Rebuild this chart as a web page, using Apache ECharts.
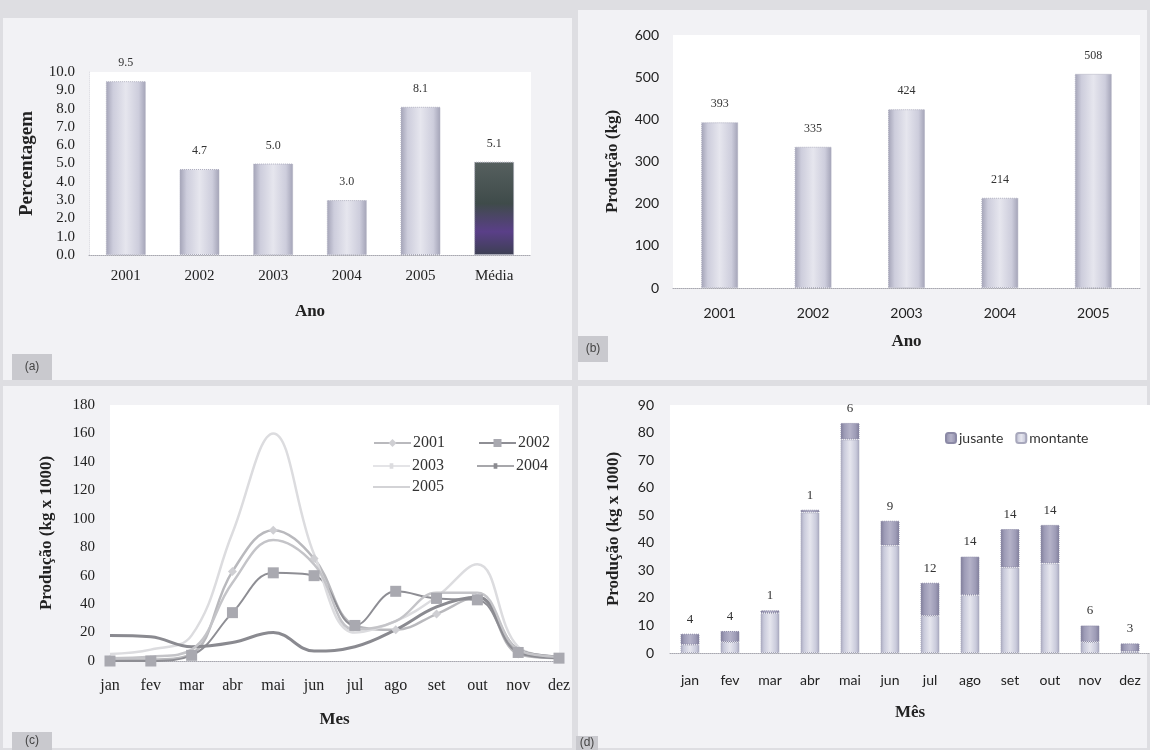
<!DOCTYPE html>
<html>
<head>
<meta charset="utf-8">
<script src="https://cdn.jsdelivr.net/npm/echarts@6/dist/echarts.min.js"></script>
<style>
  html, body { margin: 0; padding: 0; background: #dedee2; }
  #chart { width: 1150px; height: 750px; }
</style>
</head>
<body>
<div id="chart"></div>
<script>
// (a) percentagem por ano
const anosA = ['2001', '2002', '2003', '2004', '2005', 'Média'];
const percentagem = [9.5, 4.7, 5.0, 3.0, 8.1, 5.1];

// (b) produção anual (kg)
const anosB = ['2001', '2002', '2003', '2004', '2005'];
const producaoAnual = [393, 335, 424, 214, 508];

// (c) produção mensal por ano (kg x 1000)
const meses = ['jan', 'fev', 'mar', 'abr', 'mai', 'jun', 'jul', 'ago', 'set', 'out', 'nov', 'dez'];
const prod2001 = [1, 1, 5, 63, 92, 72, 25, 22, 33, 45, 5, 2];
const prod2002 = [0, 0, 4, 34, 62, 60, 25, 49, 44, 43, 6, 2];
const prod2003 = [5, 8, 18, 90, 160, 75, 20, 28, 45, 68, 10, 3];
const prod2004 = [18, 17, 10, 13, 20, 7, 10, 22, 38, 45, 8, 3];
const prod2005 = [2, 3, 8, 55, 85, 68, 22, 28, 48, 48, 8, 3];

// (d) produção mensal por local (kg x 1000)
const montante = [3, 4, 14.5, 51, 77.5, 39, 13.5, 21, 31, 32.5, 4, 0.5];
const jusante = [4, 4, 1, 1, 6, 9, 12, 14, 14, 14, 6, 3];

const SERIF = '"Liberation Serif", "DejaVu Serif", serif';
const SANS = 'Lato, "Open Sans", "Liberation Sans", sans-serif';

function cylinder(edge, mid) {
  return {
    type: 'linear', x: 0, y: 0, x2: 1, y2: 0,
    colorStops: [
      { offset: 0, color: edge },
      { offset: 0.18, color: mid },
      { offset: 0.5, color: '#e6e6ee' },
      { offset: 0.82, color: mid },
      { offset: 1, color: edge }
    ]
  };
}
const barFill = cylinder('#a2a2b6', '#cdcddc');
const mediaFill = {
  type: 'linear', x: 0, y: 0, x2: 0, y2: 1,
  colorStops: [
    { offset: 0, color: '#56605f' },
    { offset: 0.45, color: '#3f4b4a' },
    { offset: 0.75, color: '#5a3f88' },
    { offset: 1, color: '#3c3f52' }
  ]
};
const montanteFill = cylinder('#a6a6bc', '#c9cadb');
const jusanteFill = {
  type: 'linear', x: 0, y: 0, x2: 1, y2: 0,
  colorStops: [
    { offset: 0, color: '#7e7c98' },
    { offset: 0.2, color: '#9d9bb6' },
    { offset: 0.5, color: '#b4b2c8' },
    { offset: 0.8, color: '#9d9bb6' },
    { offset: 1, color: '#7e7c98' }
  ]
};

// legend glyphs for the line series: a plain stroke, optionally with a small mark
const ICON_PLAIN = 'path://M0,4.2L40,4.2L40,5.8L0,5.8Z';
const ICON_TICK = 'path://M0,4.2L40,4.2L40,5.8L0,5.8Z M18,2L22,2L22,8L18,8Z';

const dottedAxis = { show: true, lineStyle: { color: '#a8a8b0', type: 'dotted', width: 1 } };
const titleStyle = (size) => ({ fontFamily: SERIF, fontWeight: 'bold', fontSize: size, color: '#222' });
const legendText = { fontFamily: SERIF, fontSize: 16, color: '#333', padding: [0, 0, 0, -3] };

function panelBox(x, y, w, h) {
  return { type: 'rect', shape: { x: x, y: y, width: w, height: h }, style: { fill: '#f2f2f5' }, silent: true, z: -10 };
}
function tag(x, y, w, h, t) {
  return {
    type: 'group', children: [
      { type: 'rect', shape: { x: x, y: y, width: w, height: h }, style: { fill: '#c9c9ce' } },
      { type: 'text', x: x + w / 2, y: y + h / 2, style: { text: t, fill: '#444', font: '12px "Liberation Sans", sans-serif', textAlign: 'center', textVerticalAlign: 'middle' } }
    ]
  };
}

const chart = echarts.init(document.getElementById('chart'));
chart.setOption({
  backgroundColor: '#dedee2',
  animation: false,
  graphic: [
    panelBox(3, 18, 569, 362),
    panelBox(578, 10, 569, 370),
    panelBox(3, 386, 569, 362),
    panelBox(578, 386, 569, 362),
    tag(12, 354, 40, 26, '(a)'),
    tag(578, 336, 30, 26, '(b)'),
    tag(12, 732, 40, 18, '(c)'),
    tag(576, 736, 22, 14, '(d)')
  ],
  legend: [
    {
      left: 368, top: 430, itemWidth: 37, itemHeight: 10, itemGap: 33,
      data: ['2001', '2002'], textStyle: legendText
    },
    {
      left: 368, top: 453, itemWidth: 37, itemHeight: 10, itemGap: 33,
      data: [{ name: '2003', icon: ICON_TICK }, { name: '2004', icon: ICON_TICK }], textStyle: legendText
    },
    {
      left: 368, top: 474, itemWidth: 37, itemHeight: 10, itemGap: 33,
      data: [{ name: '2005', icon: ICON_PLAIN }], textStyle: legendText
    },
    {
      left: 940, top: 426, itemWidth: 10, itemHeight: 10, itemGap: 12,
      data: ['jusante', 'montante'],
      textStyle: { fontFamily: SANS, fontSize: 14, color: '#333', padding: [0, 0, 0, -2] }
    }
  ],
  grid: [
    { left: 89, right: 619, top: 72, bottom: 495, show: true, backgroundColor: '#ffffff', borderWidth: 0 },
    { left: 673, right: 10, top: 35, bottom: 462, show: true, backgroundColor: '#ffffff', borderWidth: 0 },
    { left: 110, right: 591, top: 405, bottom: 89, show: true, backgroundColor: '#ffffff', borderWidth: 0 },
    { left: 670, right: 0, top: 405, bottom: 97, show: true, backgroundColor: '#ffffff', borderWidth: 0 }
  ],
  xAxis: [
    {
      gridIndex: 0, type: 'category', data: anosA,
      axisLine: dottedAxis, axisTick: { show: false },
      axisLabel: { fontFamily: SERIF, fontSize: 15, color: '#222', margin: 14 },
      name: 'Ano', nameLocation: 'middle', nameGap: 48, nameTextStyle: titleStyle(17)
    },
    {
      gridIndex: 1, type: 'category', data: anosB,
      axisLine: dottedAxis, axisTick: { show: false },
      axisLabel: { fontFamily: SANS, fontSize: 14, color: '#222', margin: 18 },
      name: 'Ano', nameLocation: 'middle', nameGap: 45, nameTextStyle: titleStyle(17)
    },
    {
      gridIndex: 2, type: 'category', data: meses, boundaryGap: false,
      axisLine: dottedAxis, axisTick: { show: false },
      axisLabel: { fontFamily: SERIF, fontSize: 16, color: '#222', margin: 17 },
      name: 'Mes', nameLocation: 'middle', nameGap: 50, nameTextStyle: titleStyle(17)
    },
    {
      gridIndex: 3, type: 'category', data: meses,
      axisLine: dottedAxis, axisTick: { show: false },
      axisLabel: { fontFamily: SANS, fontSize: 14, color: '#222', margin: 20 },
      name: 'Mês', nameLocation: 'middle', nameGap: 51, nameTextStyle: titleStyle(17)
    }
  ],
  yAxis: [
    {
      gridIndex: 0, type: 'value', min: 0, max: 10, interval: 1,
      axisLine: { show: true, lineStyle: { color: '#e0e0e6', type: 'dotted' } }, axisTick: { show: false }, splitLine: { show: false },
      axisLabel: { fontFamily: SERIF, fontSize: 15, color: '#222', margin: 14, formatter: (v) => v.toFixed(1) },
      name: 'Percentagem', nameLocation: 'middle', nameGap: 52, nameTextStyle: titleStyle(19)
    },
    {
      gridIndex: 1, type: 'value', min: 0, max: 600, interval: 100,
      axisLine: { show: false }, axisTick: { show: false }, splitLine: { show: false },
      axisLabel: { fontFamily: SANS, fontSize: 14, color: '#222', margin: 14 },
      name: 'Produção (kg)', nameLocation: 'middle', nameGap: 52, nameTextStyle: titleStyle(17)
    },
    {
      gridIndex: 2, type: 'value', min: 0, max: 180, interval: 20,
      axisLine: { show: false }, axisTick: { show: false }, splitLine: { show: false },
      axisLabel: { fontFamily: SERIF, fontSize: 15, color: '#222', margin: 15 },
      name: 'Produção (kg x 1000)', nameLocation: 'middle', nameGap: 55, nameTextStyle: titleStyle(17)
    },
    {
      gridIndex: 3, type: 'value', min: 0, max: 90, interval: 10,
      axisLine: { show: false }, axisTick: { show: false }, splitLine: { show: false },
      axisLabel: { fontFamily: SANS, fontSize: 14, color: '#222', margin: 16 },
      name: 'Produção (kg x 1000)', nameLocation: 'middle', nameGap: 48, nameTextStyle: titleStyle(17)
    }
  ],
  series: [
    {
      name: 'percentagem', type: 'bar', xAxisIndex: 0, yAxisIndex: 0, barWidth: 40,
      data: percentagem.map((v, i) => ({
        value: v,
        itemStyle: { color: anosA[i] === 'Média' ? mediaFill : barFill, borderColor: '#b0b0c0', borderWidth: 1, borderType: 'dotted' }
      })),
      label: { show: true, position: 'top', distance: 12, fontFamily: SERIF, fontSize: 12, color: '#333', formatter: (p) => p.value.toFixed(1) }
    },
    {
      name: 'produção', type: 'bar', xAxisIndex: 1, yAxisIndex: 1, barWidth: 37,
      data: producaoAnual,
      itemStyle: { color: barFill, borderColor: '#b0b0c0', borderWidth: 1, borderType: 'dotted' },
      label: { show: true, position: 'top', distance: 12, fontFamily: SERIF, fontSize: 12, color: '#333' }
    },
    {
      name: '2001', type: 'line', xAxisIndex: 2, yAxisIndex: 2, smooth: 0.4, data: prod2001,
      symbol: 'diamond', symbolSize: 9, showSymbol: true,
      lineStyle: { color: '#b9b9bd', width: 2.5 }, itemStyle: { color: '#cfcfd3' }
    },
    {
      name: '2002', type: 'line', xAxisIndex: 2, yAxisIndex: 2, smooth: 0.4, data: prod2002,
      symbol: 'rect', symbolSize: 11,
      lineStyle: { color: '#8e8e94', width: 2 }, itemStyle: { color: '#a9a9b0' }
    },
    {
      name: '2003', type: 'line', xAxisIndex: 2, yAxisIndex: 2, smooth: 0.4, data: prod2003,
      symbol: 'none',
      lineStyle: { color: '#dcdcdf', width: 2.5 }, itemStyle: { color: '#dcdcdf' }
    },
    {
      name: '2004', type: 'line', xAxisIndex: 2, yAxisIndex: 2, smooth: 0.4, data: prod2004,
      symbol: 'none',
      lineStyle: { color: '#8a8a90', width: 3 }, itemStyle: { color: '#8a8a90' }
    },
    {
      name: '2005', type: 'line', xAxisIndex: 2, yAxisIndex: 2, smooth: 0.4, data: prod2005,
      symbol: 'none',
      lineStyle: { color: '#c4c4c8', width: 2.5 }, itemStyle: { color: '#c4c4c8' }
    },
    {
      name: 'montante', type: 'bar', xAxisIndex: 3, yAxisIndex: 3, stack: 'local', barWidth: 19,
      data: montante,
      itemStyle: { color: montanteFill, borderColor: '#a8a8bc', borderWidth: 1, borderType: 'dotted' }
    },
    {
      name: 'jusante', type: 'bar', xAxisIndex: 3, yAxisIndex: 3, stack: 'local', barWidth: 19,
      data: jusante,
      itemStyle: { color: jusanteFill, borderColor: '#8c8aa6', borderWidth: 1, borderType: 'dotted' },
      label: { show: true, position: 'top', distance: 8, fontFamily: SERIF, fontSize: 13, color: '#333' }
    }
  ]
});
</script>
</body>
</html>
